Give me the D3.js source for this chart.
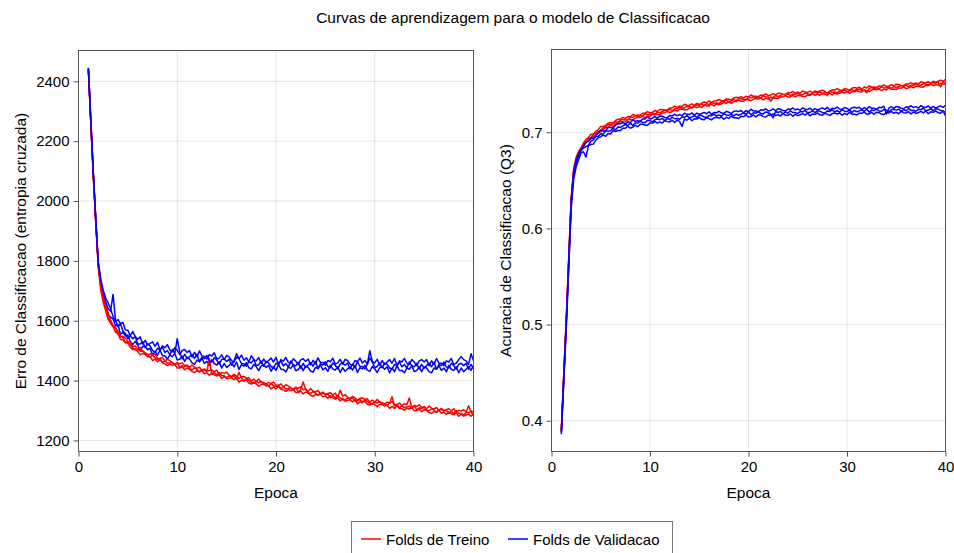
<!DOCTYPE html>
<html>
<head>
<meta charset="utf-8">
<script src="https://cdn.jsdelivr.net/npm/d3@7"></script>
<style>
  body { margin: 0; background: #fff; }
  text { font-family: "Liberation Sans", Arial, sans-serif; fill: #000; }
</style>
</head>
<body>
<div id="chart"></div>
<script>
// epochs: quarter epoch steps from 1 to 40 (157 points)
var epochs = d3.range(0, 157).map(function(i) { return 1 + i * 0.25 });

// ---- loss (cross entropy), train folds ----
var lossTreino1 = [
  2437, 2256, 2080, 1924, 1779, 1702, 1662, 1633,
  1605, 1591, 1580, 1561, 1558, 1537, 1536, 1526,
  1525, 1511, 1503, 1506, 1497, 1486, 1490, 1488,
  1480, 1480, 1467, 1472, 1463, 1470, 1459, 1456,
  1450, 1455, 1451, 1454, 1442, 1442, 1446, 1436,
  1442, 1438, 1430, 1427, 1433, 1429, 1433, 1423,
  1426, 1418, 1426, 1419, 1415, 1419, 1407, 1414,
  1406, 1408, 1410, 1403, 1409, 1395, 1401, 1398,
  1402, 1392, 1388, 1395, 1389, 1381, 1387, 1388,
  1382, 1384, 1372, 1379, 1372, 1380, 1371, 1369,
  1364, 1370, 1367, 1371, 1360, 1360, 1365, 1355,
  1362, 1358, 1351, 1347, 1354, 1351, 1355, 1346,
  1348, 1341, 1349, 1342, 1338, 1343, 1332, 1338,
  1331, 1334, 1336, 1329, 1336, 1322, 1329, 1326,
  1331, 1321, 1318, 1325, 1320, 1313, 1320, 1320,
  1315, 1318, 1307, 1314, 1307, 1316, 1307, 1306,
  1301, 1308, 1305, 1310, 1299, 1300, 1305, 1296,
  1303, 1300, 1293, 1290, 1297, 1294, 1300, 1291,
  1294, 1287, 1296, 1289, 1286, 1292, 1281, 1288,
  1281, 1285, 1288, 1281, 1288]
var lossTreino2 = [
  2441, 2262, 2086, 1932, 1787, 1713, 1672, 1643,
  1609, 1599, 1582, 1575, 1554, 1547, 1544, 1528,
  1529, 1521, 1509, 1502, 1505, 1498, 1500, 1488,
  1488, 1478, 1485, 1476, 1471, 1474, 1461, 1466,
  1458, 1459, 1461, 1452, 1458, 1444, 1450, 1446,
  1450, 1440, 1436, 1443, 1437, 1429, 1435, 1435,
  1430, 1474, 1420, 1427, 1419, 1427, 1417, 1416,
  1410, 1416, 1412, 1417, 1405, 1428, 1409, 1400,
  1406, 1402, 1394, 1391, 1397, 1393, 1397, 1388,
  1390, 1382, 1390, 1383, 1380, 1384, 1373, 1379,
  1372, 1374, 1377, 1369, 1376, 1362, 1369, 1395,
  1370, 1360, 1357, 1363, 1358, 1351, 1357, 1358,
  1352, 1355, 1343, 1350, 1342, 1351, 1342, 1340,
  1335, 1342, 1338, 1343, 1332, 1332, 1337, 1328,
  1335, 1331, 1324, 1321, 1328, 1325, 1330, 1320,
  1323, 1316, 1325, 1346, 1315, 1320, 1309, 1316,
  1309, 1312, 1315, 1308, 1315, 1302, 1309, 1306,
  1311, 1302, 1299, 1306, 1301, 1294, 1302, 1303,
  1298, 1301, 1290, 1297, 1290, 1300, 1291, 1290,
  1285, 1293, 1316, 1295, 1284]
var lossTreino3 = [
  2443, 2265, 2090, 1936, 1792, 1718, 1678, 1648,
  1627, 1601, 1584, 1579, 1564, 1549, 1548, 1542,
  1531, 1529, 1513, 1516, 1505, 1510, 1498, 1494,
  1486, 1490, 1485, 1488, 1475, 1474, 1477, 1466,
  1472, 1467, 1459, 1454, 1460, 1456, 1460, 1450,
  1452, 1444, 1452, 1445, 1441, 1445, 1433, 1439,
  1432, 1434, 1436, 1429, 1435, 1421, 1427, 1424,
  1428, 1418, 1414, 1421, 1415, 1407, 1413, 1414,
  1408, 1410, 1398, 1405, 1397, 1405, 1395, 1394,
  1388, 1394, 1390, 1395, 1384, 1384, 1389, 1379,
  1386, 1382, 1375, 1371, 1378, 1374, 1379, 1369,
  1372, 1364, 1373, 1365, 1362, 1367, 1355, 1362,
  1354, 1357, 1359, 1352, 1358, 1345, 1368, 1348,
  1353, 1344, 1340, 1347, 1342, 1334, 1341, 1342,
  1337, 1339, 1328, 1335, 1328, 1337, 1328, 1326,
  1321, 1328, 1325, 1330, 1319, 1320, 1325, 1316,
  1323, 1320, 1342, 1310, 1317, 1314, 1319, 1310,
  1313, 1306, 1315, 1308, 1305, 1310, 1300, 1307,
  1300, 1303, 1306, 1299, 1306, 1294, 1301, 1298,
  1303, 1295, 1292, 1299, 1294]

// ---- loss, validation folds ----
var lossValid1 = [
  2440, 2261, 2091, 1932, 1786, 1724, 1684, 1655,
  1620, 1612, 1606, 1582, 1588, 1554, 1562, 1549,
  1552, 1530, 1520, 1531, 1518, 1502, 1514, 1514,
  1503, 1508, 1485, 1498, 1484, 1502, 1484, 1482,
  1472, 1486, 1480, 1490, 1469, 1471, 1481, 1464,
  1478, 1472, 1459, 1454, 1468, 1463, 1474, 1457,
  1464, 1451, 1470, 1457, 1452, 1463, 1442, 1457,
  1444, 1451, 1459, 1446, 1462, 1437, 1453, 1448,
  1460, 1443, 1439, 1454, 1446, 1433, 1449, 1452,
  1444, 1451, 1431, 1446, 1434, 1454, 1438, 1437,
  1429, 1445, 1441, 1453, 1433, 1437, 1449, 1433,
  1448, 1444, 1432, 1428, 1444, 1440, 1452, 1436,
  1443, 1431, 1451, 1439, 1435, 1447, 1427, 1443,
  1431, 1439, 1447, 1435, 1451, 1427, 1443, 1439,
  1451, 1435, 1431, 1447, 1439, 1427, 1443, 1447,
  1438, 1446, 1426, 1442, 1430, 1450, 1434, 1434,
  1426, 1442, 1438, 1450, 1430, 1434, 1446, 1430,
  1446, 1442, 1430, 1426, 1442, 1438, 1450, 1434,
  1442, 1430, 1450, 1438, 1434, 1446, 1426, 1442,
  1430, 1438, 1446, 1434, 1450]
var lossValid2 = [
  2443, 2267, 2089, 1937, 1792, 1733, 1692, 1664,
  1640, 1632, 1688, 1602, 1580, 1590, 1566, 1557,
  1540, 1550, 1540, 1547, 1522, 1522, 1530, 1510,
  1523, 1516, 1501, 1494, 1508, 1502, 1512, 1494,
  1500, 1486, 1504, 1490, 1540, 1495, 1473, 1488,
  1474, 1480, 1487, 1474, 1488, 1463, 1478, 1473,
  1484, 1467, 1462, 1477, 1468, 1455, 1470, 1473,
  1464, 1471, 1451, 1466, 1490, 1473, 1457, 1456,
  1448, 1463, 1459, 1470, 1450, 1453, 1465, 1448,
  1464, 1459, 1447, 1442, 1458, 1454, 1466, 1449,
  1457, 1445, 1465, 1453, 1449, 1461, 1441, 1457,
  1444, 1452, 1460, 1448, 1464, 1440, 1456, 1452,
  1463, 1447, 1443, 1459, 1451, 1439, 1455, 1459,
  1451, 1459, 1439, 1455, 1443, 1463, 1447, 1447,
  1439, 1455, 1500, 1463, 1443, 1447, 1459, 1443,
  1458, 1454, 1442, 1438, 1454, 1450, 1462, 1446,
  1454, 1442, 1462, 1450, 1446, 1458, 1438, 1454,
  1442, 1450, 1458, 1446, 1462, 1438, 1454, 1450,
  1462, 1446, 1442, 1458, 1450, 1438, 1454, 1458,
  1450, 1458, 1438, 1454, 1442]
var lossValid3 = [
  2445, 2270, 2096, 1942, 1798, 1740, 1702, 1676,
  1660, 1640, 1614, 1598, 1604, 1590, 1594, 1569,
  1568, 1550, 1564, 1547, 1538, 1546, 1522, 1534,
  1519, 1524, 1529, 1514, 1528, 1502, 1516, 1510,
  1520, 1502, 1496, 1510, 1501, 1487, 1501, 1504,
  1494, 1500, 1479, 1494, 1480, 1499, 1482, 1481,
  1472, 1487, 1482, 1493, 1472, 1475, 1486, 1470,
  1484, 1479, 1467, 1462, 1478, 1473, 1485, 1468,
  1476, 1463, 1483, 1470, 1466, 1477, 1457, 1472,
  1460, 1467, 1475, 1462, 1478, 1454, 1470, 1465,
  1477, 1461, 1457, 1473, 1465, 1453, 1469, 1473,
  1464, 1472, 1452, 1468, 1456, 1476, 1460, 1460,
  1451, 1467, 1463, 1475, 1455, 1459, 1471, 1455,
  1471, 1467, 1455, 1451, 1467, 1463, 1475, 1459,
  1467, 1455, 1475, 1463, 1459, 1471, 1451, 1467,
  1454, 1462, 1470, 1458, 1474, 1450, 1466, 1462,
  1474, 1458, 1454, 1470, 1462, 1450, 1466, 1470,
  1462, 1470, 1450, 1466, 1454, 1474, 1458, 1458,
  1450, 1466, 1462, 1474, 1454, 1458, 1470, 1480,
  1470, 1466, 1454, 1490, 1466]

// ---- accuracy (Q3), train folds ----
var accTreino1 = [
  .389, .446, .503, .566, .628, .658, .670, .676,
  .6816, .6844, .6894, .6912, .6928, .6960, .6960, .6996,
  .7004, .7027, .7050, .7048, .7074, .7060, .7086, .7092,
  .7114, .7106, .7109, .7132, .7132, .7125, .7146, .7155,
  .7152, .7165, .7150, .7171, .7164, .7189, .7178, .7183,
  .7180, .7201, .7202, .7219, .7204, .7213, .7230, .7219,
  .7240, .7241, .7234, .7233, .7251, .7251, .7267, .7255,
  .7266, .7258, .7282, .7274, .7273, .7289, .7273, .7293,
  .7284, .7296, .7308, .7300, .7319, .7299, .7319, .7319,
  .7334, .7322, .7322, .7342, .7337, .7327, .7345, .7351,
  .7345, .7355, .7336, .7354, .7344, .7366, .7353, .7355,
  .7350, .7368, .7367, .7381, .7364, .7369, .7383, .7368,
  .7385, .7382, .7372, .7369, .7386, .7384, .7398, .7384,
  .7394, .7384, .7405, .7395, .7393, .7407, .7389, .7407,
  .7397, .7407, .7416, .7406, .7424, .7403, .7421, .7420,
  .7434, .7421, .7419, .7438, .7432, .7422, .7440, .7446,
  .7440, .7450, .7431, .7449, .7439, .7461, .7447, .7449,
  .7443, .7461, .7458, .7472, .7454, .7461, .7475, .7462,
  .7480, .7479, .7469, .7468, .7486, .7485, .7499, .7486,
  .7496, .7487, .7509, .7500, .7498]
var accTreino2 = [
  .390, .448, .505, .568, .630, .660, .672, .679,
  .6830, .6878, .6888, .6934, .6942, .6982, .6986, .7006,
  .7018, .7049, .7060, .7082, .7072, .7086, .7108, .7102,
  .7128, .7132, .7127, .7130, .7154, .7155, .7172, .7161,
  .7174, .7167, .7192, .7185, .7186, .7203, .7188, .7209,
  .7202, .7215, .7228, .7221, .7242, .7223, .7244, .7245,
  .7262, .7251, .7252, .7271, .7265, .7257, .7277, .7285,
  .7280, .7292, .7276, .7296, .7287, .7311, .7299, .7303,
  .7298, .7318, .7318, .7334, .7317, .7325, .7341, .7329,
  .7348, .7348, .7340, .7340, .7359, .7357, .7371, .7357,
  .7367, .7357, .7378, .7368, .7366, .7322, .7363, .7381,
  .7372, .7382, .7393, .7383, .7402, .7379, .7397, .7394,
  .7407, .7392, .7390, .7407, .7400, .7390, .7408, .7414,
  .7408, .7418, .7399, .7417, .7407, .7429, .7415, .7417,
  .7411, .7429, .7426, .7440, .7422, .7429, .7443, .7430,
  .7448, .7447, .7437, .7436, .7410, .7452, .7466, .7452,
  .7462, .7452, .7473, .7463, .7461, .7475, .7457, .7475,
  .7465, .7475, .7484, .7474, .7492, .7471, .7489, .7488,
  .7502, .7489, .7487, .7506, .7500, .7491, .7509, .7516,
  .7510, .7521, .7470, .7522, .7512]
var accTreino3 = [
  .391, .450, .507, .570, .632, .662, .674, .680,
  .6840, .6888, .6926, .6944, .6980, .6976, .7012, .7028,
  .7060, .7059, .7070, .7096, .7098, .7096, .7122, .7136,
  .7138, .7154, .7141, .7164, .7160, .7185, .7174, .7179,
  .7176, .7197, .7198, .7215, .7200, .7209, .7226, .7215,
  .7236, .7237, .7230, .7231, .7252, .7253, .7270, .7259,
  .7272, .7265, .7290, .7281, .7279, .7295, .7279, .7299,
  .7290, .7302, .7314, .7306, .7325, .7305, .7325, .7325,
  .7340, .7328, .7328, .7348, .7343, .7335, .7355, .7363,
  .7358, .7370, .7354, .7374, .7365, .7387, .7373, .7375,
  .7369, .7387, .7384, .7398, .7380, .7386, .7401, .7387,
  .7406, .7404, .7395, .7393, .7412, .7409, .7423, .7408,
  .7417, .7406, .7428, .7417, .7414, .7428, .7410, .7428,
  .7418, .7428, .7437, .7427, .7380, .7423, .7441, .7439,
  .7453, .7439, .7436, .7454, .7448, .7439, .7457, .7464,
  .7458, .7469, .7446, .7470, .7460, .7482, .7468, .7470,
  .7464, .7482, .7479, .7493, .7475, .7481, .7495, .7481,
  .7499, .7497, .7486, .7484, .7502, .7501, .7515, .7502,
  .7512, .7503, .7525, .7516, .7514, .7525, .7511, .7530,
  .7520, .7531, .7541, .7530, .7550]

// ---- accuracy, validation folds ----
var accValid1 = [
  .386, .441, .496, .558, .620, .651, .664, .671,
  .6787, .6797, .6740, .6862, .6872, .6877, .6917, .6942,
  .6952, .6972, .6957, .6987, .6982, .7017, .7007, .7017,
  .7017, .7042, .7042, .7062, .7042, .7052, .7072, .7057,
  .7082, .7082, .7072, .7072, .7097, .7095, .7112, .7095,
  .7107, .7095, .7122, .7110, .7107, .7125, .7102, .7125,
  .7112, .7060, .7137, .7125, .7147, .7119, .7140, .7137,
  .7153, .7134, .7130, .7151, .7142, .7128, .7150, .7156,
  .7147, .7158, .7135, .7156, .7142, .7168, .7150, .7151,
  .7143, .7165, .7162, .7179, .7157, .7163, .7179, .7160,
  .7181, .7177, .7162, .7158, .7179, .7175, .7191, .7172,
  .7182, .7168, .7194, .7179, .7175, .7190, .7166, .7186,
  .7172, .7182, .7193, .7178, .7199, .7169, .7190, .7185,
  .7201, .7181, .7177, .7197, .7188, .7173, .7194, .7199,
  .7190, .7200, .7176, .7196, .7182, .7207, .7188, .7188,
  .7179, .7199, .7195, .7210, .7186, .7191, .7207, .7187,
  .7208, .7203, .7189, .7184, .7205, .7200, .7216, .7196,
  .7207, .7192, .7218, .7203, .7199, .7214, .7189, .7210,
  .7195, .7205, .7216, .7201, .7221, .7192, .7212, .7207,
  .7222, .7203, .7198, .7218, .7209]
var accValid2 = [
  .388, .444, .500, .562, .625, .655, .668, .675,
  .6810, .6835, .6850, .6865, .6905, .6920, .6955, .6955,
  .6985, .6980, .7015, .7010, .7015, .7040, .7025, .7055,
  .7050, .7065, .7080, .7070, .7095, .7070, .7095, .7095,
  .7115, .7100, .7100, .7125, .7120, .7108, .7130, .7138,
  .7130, .7143, .7120, .7143, .7130, .7158, .7140, .7143,
  .7135, .7158, .7155, .7173, .7150, .7157, .7173, .7155,
  .7176, .7172, .7158, .7154, .7175, .7171, .7188, .7169,
  .7180, .7166, .7193, .7179, .7175, .7191, .7168, .7189,
  .7176, .7188, .7200, .7187, .7210, .7181, .7202, .7198,
  .7214, .7195, .7190, .7211, .7202, .7188, .7150, .7215,
  .7205, .7216, .7192, .7212, .7198, .7223, .7204, .7204,
  .7195, .7215, .7211, .7226, .7202, .7207, .7223, .7203,
  .7224, .7219, .7205, .7200, .7221, .7216, .7232, .7212,
  .7223, .7208, .7234, .7219, .7215, .7230, .7206, .7226,
  .7212, .7222, .7233, .7218, .7239, .7209, .7230, .7225,
  .7241, .7221, .7217, .7237, .7228, .7213, .7234, .7239,
  .7230, .7240, .7216, .7236, .7222, .7247, .7227, .7228,
  .7218, .7238, .7234, .7249, .7224, .7230, .7245, .7225,
  .7245, .7241, .7226, .7221, .7170]
var accValid3 = [
  .390, .447, .504, .566, .629, .659, .671, .678,
  .6818, .6858, .6898, .6903, .6943, .6933, .6973, .6988,
  .7023, .7013, .7018, .7048, .7048, .7043, .7073, .7088,
  .7088, .7103, .7083, .7108, .7098, .7128, .7113, .7118,
  .7113, .7138, .7138, .7158, .7138, .7146, .7163, .7146,
  .7168, .7166, .7153, .7151, .7173, .7171, .7188, .7171,
  .7183, .7171, .7198, .7186, .7183, .7200, .7176, .7198,
  .7184, .7195, .7206, .7192, .7213, .7184, .7206, .7202,
  .7218, .7199, .7196, .7217, .7208, .7194, .7216, .7222,
  .7214, .7226, .7203, .7225, .7213, .7239, .7220, .7221,
  .7212, .7233, .7228, .7244, .7220, .7226, .7242, .7223,
  .7243, .7239, .7225, .7220, .7241, .7236, .7252, .7232,
  .7243, .7228, .7254, .7239, .7235, .7250, .7226, .7246,
  .7232, .7242, .7253, .7238, .7259, .7229, .7250, .7245,
  .7261, .7241, .7237, .7257, .7248, .7233, .7254, .7259,
  .7250, .7260, .7236, .7256, .7242, .7267, .7248, .7248,
  .7239, .7259, .7255, .7270, .7190, .7251, .7267, .7247,
  .7268, .7263, .7249, .7244, .7265, .7260, .7275, .7256,
  .7266, .7251, .7277, .7262, .7257, .7273, .7248, .7268,
  .7253, .7264, .7274, .7259, .7280]

var xTicks = [0, 10, 20, 30, 40]
var lossTicks = [1200, 1400, 1600, 1800, 2000, 2200, 2400]
var accTicks = [0.4, 0.5, 0.6, 0.7]

var width = 954,
    height = 553;

var svg = d3.select("#chart")
    .append("svg")
    .attr("width", width)
    .attr("height", height);

svg.append("text")
    .attr("x", 513)
    .attr("y", 23)
    .attr("text-anchor", "middle")
    .style("font-size", "15.5px")
    .text("Curvas de aprendizagem para o modelo de Classificacao");

// draws one panel, folds interleaved treino / validacao like the original
function panel(opts) {
    var x = d3.scaleLinear().domain([0, 40]).range([opts.left, opts.right]);
    var y = d3.scaleLinear().domain(opts.yDomain).range([opts.bottom, opts.top]);

    var g = svg.append("g");

    // grid
    g.selectAll(".gx").data(xTicks).enter().append("line")
        .attr("x1", function(d) { return x(d) }).attr("x2", function(d) { return x(d) })
        .attr("y1", opts.top).attr("y2", opts.bottom)
        .attr("stroke", "#000").attr("stroke-opacity", 0.1);
    g.selectAll(".gy").data(opts.yTicks).enter().append("line")
        .attr("y1", function(d) { return y(d) }).attr("y2", function(d) { return y(d) })
        .attr("x1", opts.left).attr("x2", opts.right)
        .attr("stroke", "#000").attr("stroke-opacity", 0.1);

    var clipId = "clip" + opts.id;
    svg.append("clipPath").attr("id", clipId)
        .append("rect")
        .attr("x", opts.left).attr("y", opts.top)
        .attr("width", opts.right - opts.left).attr("height", opts.bottom - opts.top);

    var line = d3.line()
        .x(function(d, i) { return x(epochs[i]) })
        .y(function(d) { return y(d) });

    var series = [];
    for (var k = 0; k < opts.treino.length; k++) {
        series.push({ v: opts.treino[k], c: "#ff0000" });
        series.push({ v: opts.valid[k], c: "#0000ff" });
    }
    g.append("g").attr("clip-path", "url(#" + clipId + ")")
        .selectAll("path").data(series).enter().append("path")
        .attr("d", function(d) { return line(d.v) })
        .attr("fill", "none")
        .attr("stroke", function(d) { return d.c })
        .attr("stroke-width", 1.5)
        .attr("stroke-linejoin", "round");

    // axes
    var xAxis = d3.axisBottom(x).tickValues(xTicks).tickSize(5).tickSizeOuter(0).tickPadding(5);
    var gx = g.append("g").attr("transform", "translate(0," + opts.bottom + ")").call(xAxis);
    var yAxis = d3.axisLeft(y).tickValues(opts.yTicks).tickSize(5).tickSizeOuter(0).tickPadding(4)
        .tickFormat(opts.fmt);
    var gy = g.append("g").attr("transform", "translate(" + opts.left + ",0)").call(yAxis);
    [gx, gy].forEach(function(a) {
        a.select(".domain").remove();
        a.selectAll(".tick line").attr("stroke", "#555");
        a.selectAll(".tick text").style("font-size", "15px").attr("fill", "#000")
            .style("font-family", "'Liberation Sans', Arial, sans-serif");
    });

    // frame
    g.append("rect")
        .attr("x", opts.left).attr("y", opts.top)
        .attr("width", opts.right - opts.left).attr("height", opts.bottom - opts.top)
        .attr("fill", "none").attr("stroke", "#555").attr("stroke-width", 1);

    g.append("text")
        .attr("x", (opts.left + opts.right) / 2)
        .attr("y", 498)
        .attr("text-anchor", "middle")
        .style("font-size", "15.5px")
        .text("Epoca");

    g.append("text")
        .attr("transform", "translate(" + opts.labelX + "," + (opts.top + opts.bottom) / 2 + ") rotate(-90)")
        .attr("text-anchor", "middle")
        .style("font-size", "15.5px")
        .text(opts.yLabel);
}

panel({
    id: 1, left: 78.5, right: 473.5, top: 50.5, bottom: 451.5,
    yDomain: [1163, 2503], yTicks: lossTicks, fmt: d3.format("d"),
    treino: [lossTreino1, lossTreino2, lossTreino3],
    valid: [lossValid1, lossValid2, lossValid3],
    yLabel: "Erro de Classificacao (entropia cruzada)", labelX: 26
});

panel({
    id: 2, left: 551.5, right: 945.5, top: 49.5, bottom: 451.5,
    yDomain: [0.368, 0.786], yTicks: accTicks, fmt: d3.format(".1f"),
    treino: [accTreino1, accTreino2, accTreino3],
    valid: [accValid1, accValid2, accValid3],
    yLabel: "Acuracia de Classificacao (Q3)", labelX: 511
});

// legend
var legend = svg.append("g");
legend.append("rect")
    .attr("x", 351.5).attr("y", 521.5)
    .attr("width", 321).attr("height", 38)
    .attr("fill", "#fff").attr("stroke", "#777");
var items = [
    { name: "Folds de Treino", c: "#ff0000", x: 361 },
    { name: "Folds de Validacao", c: "#0000ff", x: 508 }
];
items.forEach(function(it) {
    legend.append("line")
        .attr("x1", it.x).attr("x2", it.x + 20)
        .attr("y1", 539).attr("y2", 539)
        .attr("stroke", it.c).attr("stroke-width", 1.5);
    legend.append("text")
        .attr("x", it.x + 25).attr("y", 544.5)
        .style("font-size", "15px")
        .text(it.name);
});
</script>
</body>
</html>
